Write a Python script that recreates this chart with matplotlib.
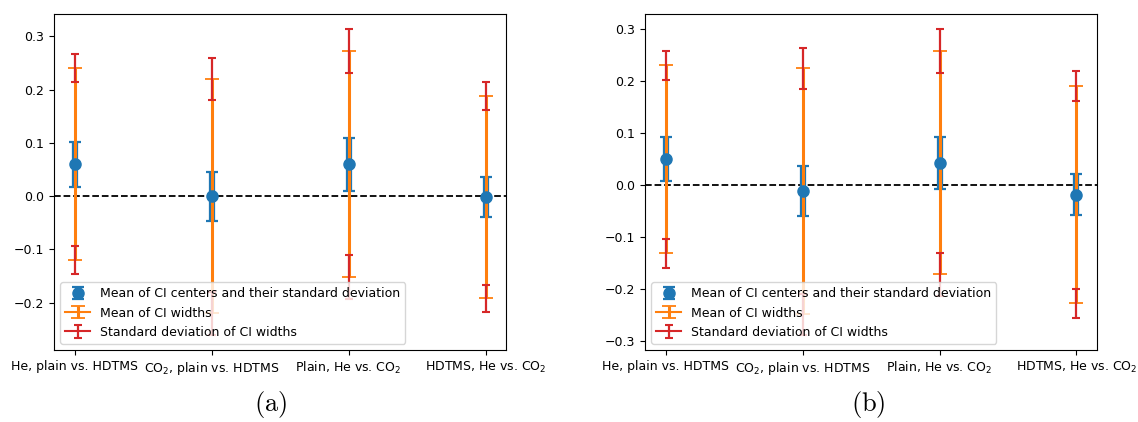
import numpy as np
import matplotlib
matplotlib.use("Agg")
import matplotlib.pyplot as plt

plt.rcParams['mathtext.fontset'] = 'dejavusans'

categories = ["He, plain vs. HDTMS", "CO$_2$, plain vs. HDTMS",
              "Plain, He vs. CO$_2$", "HDTMS, He vs. CO$_2$"]

# panel (a)
center_a = [0.060, 0.000, 0.060, -0.002]
center_std_a = [0.042, 0.046, 0.050, 0.038]
half_width_a = [0.180, 0.220, 0.212, 0.190]
width_std_a = [0.026, 0.040, 0.041, 0.026]

# panel (b)
center_b = [0.050, -0.012, 0.043, -0.018]
center_std_b = [0.042, 0.048, 0.050, 0.040]
half_width_b = [0.181, 0.237, 0.215, 0.209]
width_std_b = [0.028, 0.039, 0.042, 0.028]

FS = 9.0


def draw_panel(ax, center, center_std, half_width, width_std):
    ax.axhline(0, color='black', linestyle='--', linewidth=1.3, zorder=1)
    for i in range(len(categories)):
        c, s, w, ws = center[i], center_std[i], half_width[i], width_std[i]
        # one point per call, so the (invisible) data line still shows in the legend
        ax.errorbar(i, c, yerr=s, fmt='o', color='C0', markersize=8,
                    elinewidth=4.5, capsize=4.5, capthick=1.6,
                    label='Mean of CI centers and their standard deviation' if i == 0 else None)
        ax.errorbar(i, c, yerr=w, color='C1', elinewidth=2.2,
                    capsize=4.8, capthick=1.3,
                    label='Mean of CI widths' if i == 0 else None)
        ax.errorbar(i, c + w, yerr=ws, color='C3', elinewidth=1.6,
                    capsize=3.2, capthick=1.5,
                    label='Standard deviation of CI widths' if i == 0 else None)
        ax.errorbar(i, c - w, yerr=ws, color='C3', elinewidth=1.6,
                    capsize=3.2, capthick=1.5)
    ax.set_xticks(range(len(categories)))
    ax.set_xticklabels(categories, fontsize=FS)
    ax.tick_params(axis='y', labelsize=FS)
    ax.legend(loc='lower left', fontsize=FS)


fig = plt.figure(figsize=(11.38, 4.22), dpi=100)
ax1 = fig.add_axes([0.0475, 0.1706, 0.3972, 0.796])
ax2 = fig.add_axes([0.5668, 0.1706, 0.3972, 0.796])

draw_panel(ax1, center_a, center_std_a, half_width_a, width_std_a)
draw_panel(ax2, center_b, center_std_b, half_width_b, width_std_b)

fig.text(271 / 1138, 1 - 405 / 422, r'$\mathrm{(a)}$', ha='center', va='center',
         fontsize=19, math_fontfamily='cm')
fig.text(868 / 1138, 1 - 405 / 422, r'$\mathrm{(b)}$', ha='center', va='center',
         fontsize=19, math_fontfamily='cm')

fig.savefig('out.png', dpi=100)
